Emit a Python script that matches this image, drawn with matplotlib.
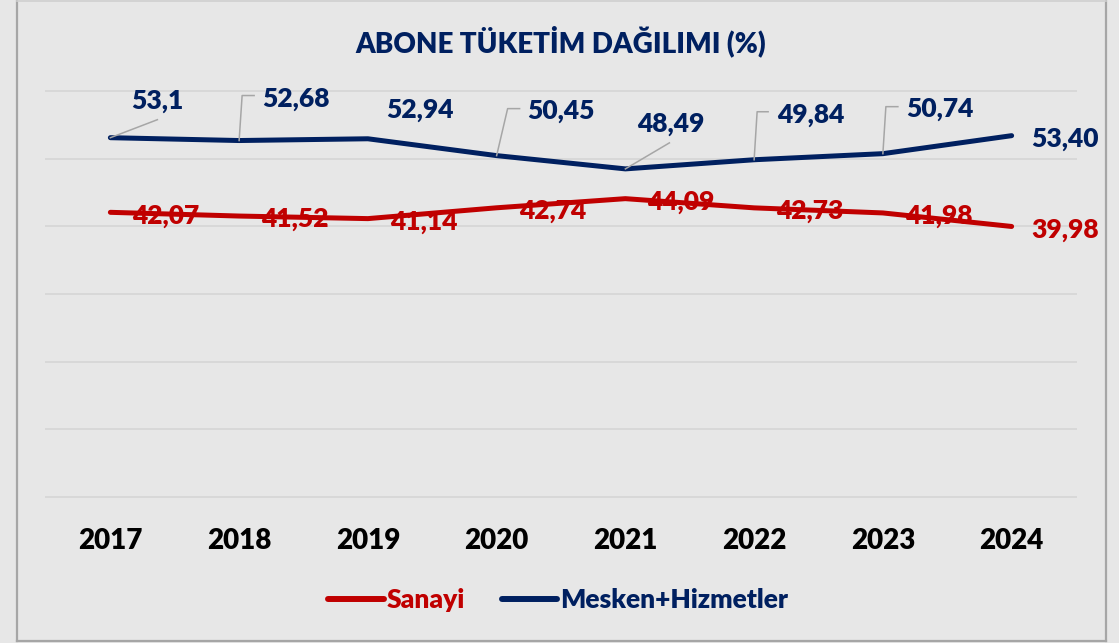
import matplotlib
matplotlib.use('Agg')
import matplotlib.pyplot as plt
from matplotlib.lines import Line2D
from matplotlib.transforms import IdentityTransform

plt.rcParams['font.family'] = ['Lato', 'DejaVu Sans']

# ---- data ----
years = ['2017', '2018', '2019', '2020', '2021', '2022', '2023', '2024']
sanayi = [42.07, 41.52, 41.14, 42.74, 44.09, 42.73, 41.98, 39.98]
mesken = [53.1, 52.68, 52.94, 50.45, 48.49, 49.84, 50.74, 53.40]
sanayi_labels = ['42,07', '41,52', '41,14', '42,74', '44,09', '42,73', '41,98', '39,98']
mesken_labels = ['53,1', '52,68', '52,94', '50,45', '48,49', '49,84', '50,74', '53,40']
series_names = ['Sanayi', 'Mesken+Hizmetler']
title = 'ABONE TÜKETİM DAĞILIMI (%)'

# ---- style ----
RED = '#C00000'
NAVY = '#002060'
BG = '#e7e7e7'
GRID = '#d8d8d8'
LEADER = '#a6a6a6'
W, H = 1119, 643
WEIGHT = 'heavy'

fig = plt.figure(figsize=(W / 100, H / 100), dpi=100, facecolor=BG)
ax = fig.add_axes([46 / W, (H - 497) / H, 1030 / W, 406 / H])
ax.set_facecolor('none')
for s in ax.spines.values():
    s.set_visible(False)
ax.set_xlim(-0.5, len(years) - 0.5)
ax.set_ylim(0, 60)
ax.set_yticks(range(0, 61, 10))
ax.tick_params(axis='y', length=0, labelleft=False)
ax.yaxis.grid(True, color=GRID, lw=1.4)
for gl in ax.get_ygridlines():
    gl.set_clip_on(False)
ax.set_axisbelow(True)

x = list(range(len(years)))
ax.set_xticks(x)
ax.set_xticklabels(years, fontsize=20, fontweight=WEIGHT, color='black')
ax.tick_params(axis='x', length=0, pad=22)

ax.plot(x, sanayi, color=RED, lw=3.6, solid_capstyle='round', solid_joinstyle='round', zorder=3, clip_on=False)
ax.plot(x, mesken, color=NAVY, lw=3.6, solid_capstyle='round', solid_joinstyle='round', zorder=3, clip_on=False)

# leader lines for Mesken labels (pixel offsets from the data point, y up)
leaders = [
    [(0, 0), (47, 18)],
    [(0, 0), (3, 45), (15, 45)],
    None,
    [(0, 0), (11, 47), (23, 47)],
    [(0, 0), (44, 26)],
    [(0, 0), (3, 48), (14, 48)],
    [(0, 0), (3, 47), (15, 47)],
    None,
]
mesken_off = [(21, 29), (23, 34), (18, 21), (31, 37), (12, 37), (23, 37), (23, 37), (20, -11)]
sanayi_off = [(22, -11)] * 7 + [(20, -11)]

for i, v in enumerate(mesken):
    if leaders[i]:
        x0, y0 = ax.transData.transform((i, v))
        xs = [x0 + dx for dx, dy in leaders[i]]
        ys = [y0 + dy for dx, dy in leaders[i]]
        fig.add_artist(Line2D(xs, ys, transform=IdentityTransform(), color=LEADER, lw=1.1, zorder=2))
    ax.annotate(mesken_labels[i], xy=(i, v), xytext=mesken_off[i], textcoords='offset pixels',
                ha='left', va='baseline', fontsize=19, fontweight=WEIGHT, color=NAVY, zorder=5,
                annotation_clip=False)

for i, v in enumerate(sanayi):
    ax.annotate(sanayi_labels[i], xy=(i, v), xytext=sanayi_off[i], textcoords='offset pixels',
                ha='left', va='baseline', fontsize=19, fontweight=WEIGHT, color=RED, zorder=5,
                annotation_clip=False)

fig.text(561 / W, 1 - 41 / H, title, ha='center', va='center', fontsize=20,
         fontweight=WEIGHT, color=NAVY)

handles = [Line2D([], [], color=RED, lw=4.3, solid_capstyle='round'),
           Line2D([], [], color=NAVY, lw=4.3, solid_capstyle='round')]
leg = fig.legend(handles, series_names, loc='center', bbox_to_anchor=(558 / W, 1 - 600 / H),
                 ncol=2, frameon=False, handlelength=2.1, handletextpad=0.1,
                 columnspacing=1.4, prop={'size': 19, 'weight': WEIGHT})
for t, c in zip(leg.get_texts(), [RED, NAVY]):
    t.set_color(c)

# outer frame
fig.add_artist(Line2D([16.5 / W, 16.5 / W], [1, 1 - 641 / H], transform=fig.transFigure, color='#a6a6a6', lw=1.6))
fig.add_artist(Line2D([1106 / W, 1106 / W], [1, 1 - 641 / H], transform=fig.transFigure, color='#a6a6a6', lw=1.6))
fig.add_artist(Line2D([16.5 / W, 1106 / W], [1 - 641 / H, 1 - 641 / H], transform=fig.transFigure, color='#a6a6a6', lw=1.6))
fig.add_artist(Line2D([16.5 / W, 1106 / W], [1 - 1 / H, 1 - 1 / H], transform=fig.transFigure, color='#d0d0d0', lw=1.2))

fig.savefig('out.png', dpi=100, facecolor=BG)
